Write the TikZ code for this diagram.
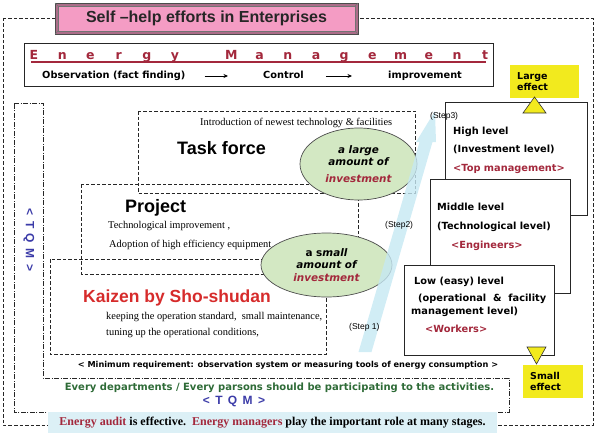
\documentclass[tikz,border=0pt]{standalone}
\usepackage{fontspec}
\setmainfont{Liberation Serif}
\setsansfont{Liberation Sans}
\newfontfamily\heavy{DejaVu Sans}
\usepackage{tikz}
\usetikzlibrary{arrows.meta, positioning, calc, shapes.geometric}
\definecolor{emred}{HTML}{A3283C}
\definecolor{kaizenred}{HTML}{D62B2B}
\definecolor{tqmblue}{HTML}{3B3BA8}
\definecolor{tqmgreen}{HTML}{2E6B37}
\definecolor{effyellow}{HTML}{F2EA1E}
\definecolor{invgreen}{HTML}{D3E8C3}
\definecolor{bandblue}{HTML}{DCF0F6}
\definecolor{stepblue}{HTML}{C6E8F3}
\definecolor{titlepink}{HTML}{F49CC4}
\colorlet{titlebevel}{titlepink!70!black}
\colorlet{linegray}{black!85}
\newcommand{\activitybox}[4]{%
  \draw[dashbox] (#1,#2) rectangle (#3,#4);%
}
\newcommand{\tqm}{<\hspace{.45em}T\hspace{.45em}Q\hspace{.45em}M\hspace{.45em}>}

\begin{document}
\begin{tikzpicture}[x=1pt, y=-1pt,
  dashbox/.style={draw=linegray, line width=0.6pt, dash pattern=on 3.5pt off 2pt},
  dotdash/.style={draw=linegray, line width=0.6pt, dash pattern=on 5pt off 1.5pt on 1pt off 1.5pt},
  serif/.style={font=\rmfamily\fontsize{10.4}{12}\selectfont, inner sep=0pt, anchor=west, text height=1.5ex, text depth=.25ex},
  heading/.style={font=\sffamily\bfseries\fontsize{18}{20}\selectfont, inner sep=0pt, anchor=west, text height=1.5ex, text depth=.25ex},
  heavytext/.style={font=\heavy\bfseries\fontsize{9.8}{11}\selectfont, inner sep=0pt, anchor=west, text height=1.5ex, text depth=.25ex},
  steplabel/.style={font=\sffamily\fontsize{8.5}{10}\selectfont, inner sep=0pt, anchor=west},
  emletter/.style={font=\heavy\bfseries\fontsize{12.5}{13}\selectfont, text=emred, inner sep=0pt, anchor=base},
  flow/.style={-{Stealth[length=4.5pt,width=4pt]}, line width=0.9pt},
  levelbox/.style={draw=linegray, fill=white, line width=0.7pt, anchor=north west, inner sep=0pt},
  effectbox/.style={fill=effyellow, anchor=north west, align=left, text width=55pt, inner xsep=7pt, minimum height=33pt,
    font=\heavy\bfseries\fontsize{9.5}{11}\selectfont},
  invest/.style={ellipse, draw=black!70, fill=invgreen, line width=0.7pt, inner sep=0pt, align=center,
    font=\heavy\bfseries\itshape\fontsize{10.4}{12.5}\selectfont},
  effarrow/.style={fill=effyellow, draw=black!80, line width=0.6pt, line join=miter}
]
\useasboundingbox (0,0) rectangle (599,436);

% outer frame and TQM frame
\draw[dashbox] (3,18) rectangle (593,425);
\draw[dotdash] (14,103) -- (43,103) -- (43,378) -- (509,378) -- (509,412) -- (14,412) -- cycle;
\node[font=\sffamily\bfseries\fontsize{12}{14}\selectfont, text=tqmblue, rotate=-90] (tqmside) at (29,240) {\tqm};

% activity boxes
\activitybox{50}{259}{326}{354}
\activitybox{81}{184}{358}{274}
\activitybox{138}{111}{415}{193}

\node[serif] (newtech) at (200,123) {Introduction of newest technology \& facilities};
\node[heading] (task) at (177,152) {Task force};

\node[heading] (project) at (125,210) {Project};
\node[serif] (techimp) at (108,226) {Technological improvement ,};
\node[serif] (adopt) at (109,245) {Adoption of high efficiency equipment};

\node[heading, font=\sffamily\bfseries\fontsize{17.5}{20}\selectfont, text=kaizenred] (kaizen) at (83,300) {Kaizen by Sho-shudan};
\node[serif] (keep) at (106,317) {keeping the operation standard,\ \ small maintenance,};
\node[serif] (tune) at (106,333) {tuning up the operational conditions,};

\node[font=\heavy\bfseries\fontsize{8.2}{9}\selectfont] (minreq) at (288,365)
  {< Minimum requirement: observation system or measuring tools of energy consumption >};

% investment
\node[invest, minimum width=117pt, minimum height=72pt] (biginv) at (358.5,164)
  {a large\\amount of\\[4pt]\textcolor{emred}{investment}};
\node[invest, minimum width=131pt, minimum height=64pt] (smallinv) at (326.5,265)
  {\textup{a s}mall\\amount of\\\textcolor{emred}{investment}};

% step arrow
\fill[stepblue, fill opacity=0.8] (358.5,352) -- (371.5,352) -- (432.5,142) -- (436,142)
  -- (435,111) -- (416,142) -- (419.5,142) -- cycle;

% levels
\node[levelbox, minimum width=142pt, minimum height=113pt] (high) at (445,102) {};
\node[heavytext] (highA) at (453,132) {High level};
\node[heavytext] (highB) at (453,150) {(Investment level)};
\node[heavytext, text=emred] (highC) at (453,169) {<Top management>};

\node[levelbox, minimum width=140pt, minimum height=114pt] (middle) at (430,179) {};
\node[heavytext] (midA) at (437,208) {Middle level};
\node[heavytext] (midB) at (437,227) {(Technological level)};
\node[heavytext, text=emred] (midC) at (451,246) {<Engineers>};

\node[levelbox, minimum width=150pt, minimum height=90pt] (low) at (404,265) {};
\node[heavytext] (lowA) at (414,282) {Low (easy) level};
\node[heavytext] (lowB) at (418,299) {(operational\ \ \&\ \ facility};
\node[heavytext] (lowC) at (411,312) {management level)};
\node[heavytext, text=emred] (lowD) at (425,330) {<Workers>};

\node[steplabel] (step3) at (430,116) {(Step3)};
\node[steplabel] (step2) at (385,225) {(Step2)};
\node[steplabel] (step1) at (349,327) {(Step 1)};

% effects
\node[effectbox] (large) at (510,65) {Large\\effect};
\draw[effarrow] (523,113) -- (534.5,97) -- (546,113) -- cycle;
\draw[effarrow] (527,347) -- (546,347) -- (536.5,364) -- cycle;
\node[effectbox, minimum width=60pt, text width=46pt] (small) at (523,365) {Small\\effect};

% bottom
\node[font=\heavy\bfseries\fontsize{10}{11}\selectfont, text=tqmgreen] (every) at (279.5,388)
  {Every departments / Every parsons should be participating to the activities.};
\node[font=\sffamily\bfseries\fontsize{12}{14}\selectfont, text=tqmblue] (tqmbottom) at (234,401) {\tqm};
\node[fill=bandblue, minimum width=449pt, minimum height=21pt, inner sep=0pt,
  font=\rmfamily\bfseries\fontsize{12}{14}\selectfont] (audit) at (272.5,422.5)
  {\textcolor{emred}{Energy audit} is effective.\ \ \textcolor{emred}{Energy managers} play the important role at many stages.};

% title
\draw[fill=titlebevel, draw=black!70, line width=0.6pt] (55,3) rectangle (358,34);
\draw[fill=titlepink, draw=black!55, line width=0.4pt] (58,6) rectangle (355,31);
\draw[black!55, line width=0.4pt] (55,3) -- (58,6) (358,3) -- (355,6) (55,34) -- (58,31) (358,34) -- (355,31);
\node[font=\sffamily\bfseries\fontsize{16}{18}\selectfont, text=black!85] (title) at (206.5,18.5) {Self –help efforts in Enterprises};

% energy management
\draw[draw=linegray, fill=white, line width=0.8pt] (24,43) rectangle (493,86);
\foreach \ch [count=\k from 0] in {E,n,e,r,g,y}
  \node[emletter] (em\k) at (34+28.2*\k,59.5) {\ch};
\foreach \ch [count=\k from 7] in {M,a,n,a,g,e,m,e,n,t}
  \node[emletter] (em\k) at (34+28.2*\k,59.5) {\ch};
\draw[emred, line width=1.8pt] (31,61.8) -- (486,61.8);

\node[heavytext] (obs) at (42,76) {Observation (fact finding)};
\node[heavytext] (ctrl) at (263,76) {Control};
\node[heavytext] (impr) at (388,76) {improvement};
\draw[flow, shorten <=19pt, shorten >=35pt] (obs.east) -- (ctrl.west);
\draw[flow, shorten <=22pt, shorten >=36pt] (ctrl.east) -- (impr.west);
\end{tikzpicture}
\end{document}
